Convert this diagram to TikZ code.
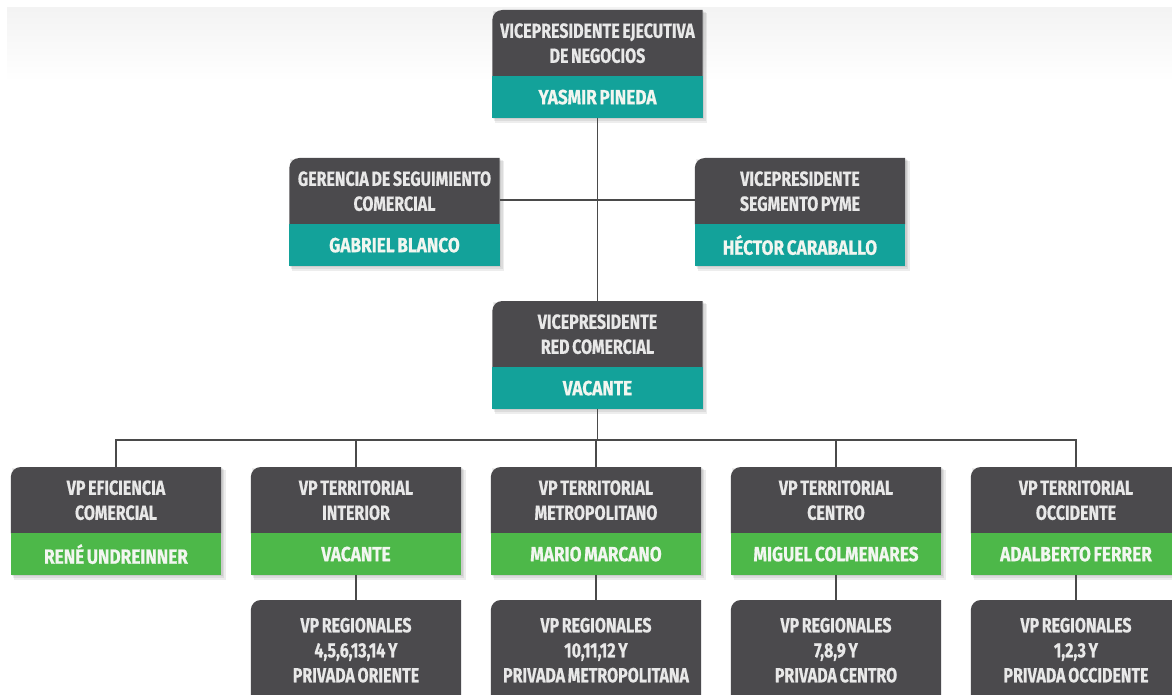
\documentclass[tikz,border=0pt]{standalone}
\usepackage{fontspec}
\newfontfamily\boxfont[FakeStretch=0.78, BoldFeatures={FakeBold=0.6}]{Fira Sans}
\newfontfamily\namefont[FakeStretch=0.84, BoldFeatures={FakeBold=0.6}]{Fira Sans}
\usetikzlibrary{calc}
\definecolor{darkbox}{HTML}{4B4A4D}
\definecolor{tealbox}{HTML}{13A29A}
\definecolor{greenbox}{HTML}{4DB849}
\definecolor{linec}{HTML}{4A4A4A}
\definecolor{titletext}{HTML}{E8E8E8}
\definecolor{nametext}{HTML}{F2F6F0}
\definecolor{bandc}{HTML}{F3F3F3}
\pgfdeclarelayer{background}
\pgfsetlayers{background,main}
\newcommand\boxtextfont{\boxfont\bfseries\fontsize{20.5}{25}\selectfont}
\newcommand\nametextfont{\namefont\bfseries\fontsize{20.5}{25}\selectfont}
\tikzset{
  boxtext/.style={anchor=north, text width=210pt, inner sep=0pt, font=\boxtextfont,
    execute at begin node={\centering\spaceskip=0.13em plus 0.05em\relax}},
  titlebox/.style={boxtext, minimum height=66pt, text=titletext},
  namebox/.style={boxtext, minimum height=41pt, text=nametext, font=\nametextfont},
  regbox/.style={boxtext, minimum height=100pt, text=titletext},
  conn/.style={draw=linec, line width=1.5pt},
  shadowc/.style={fill=black, opacity=0.07}
}
\newcommand\orgbox[6]{%
  \node[titlebox] (#1) at (#2,#3) {#4};
  \node[namebox] (#1p) at (#1.south) {#5};
  \begin{pgfonlayer}{background}
    \foreach \s in {1,2,3}{
      \fill[shadowc] ([xshift=\s pt, yshift=-\s pt]#1.north west) rectangle ([xshift=1.5*\s pt, yshift=-1.6*\s pt]#1p.south east);
    }
    \fill[darkbox] (#1.south west) [rounded corners=10pt] -- (#1.north west) [sharp corners] -- (#1.north east) -- (#1.south east) -- cycle;
    \fill[#6] (#1p.north west) rectangle (#1p.south east);
  \end{pgfonlayer}
}
\newcommand\regionbox[3]{%
  \node[regbox] (#1) at (#2,600) {#3};
  \begin{pgfonlayer}{background}
    \fill[darkbox] (#1.south west) [rounded corners=10pt] -- (#1.north west) [sharp corners] -- (#1.north east) -- (#1.south east) -- cycle;
  \end{pgfonlayer}
}
\begin{document}
\begin{tikzpicture}[x=1pt,y=-1pt]
\useasboundingbox (0,0) rectangle (1172,695);
\clip (0,0) rectangle (1172,695);
\begin{pgfonlayer}{background}
\shade[top color=bandc, bottom color=white] (7,8) rectangle (1172,82);
\end{pgfonlayer}

\orgbox{top}{597.5}{10}{VICEPRESIDENTE EJECUTIVA\\DE NEGOCIOS}{YASMIR PINEDA}{tealbox}
\orgbox{ger}{394.5}{158}{GERENCIA DE SEGUIMIENTO\\COMERCIAL}{GABRIEL BLANCO}{tealbox}
\orgbox{hec}{800}{158}{VICEPRESIDENTE\\SEGMENTO PYME}{HÉCTOR CARABALLO}{tealbox}
\orgbox{red}{597.5}{301}{VICEPRESIDENTE\\RED COMERCIAL}{VACANTE}{tealbox}

\orgbox{ta}{116}{467}{VP EFICIENCIA\\COMERCIAL}{RENÉ UNDREINNER}{greenbox}
\orgbox{tb}{356}{467}{VP TERRITORIAL\\INTERIOR}{VACANTE}{greenbox}
\orgbox{tc}{596}{467}{VP TERRITORIAL\\METROPOLITANO}{MARIO MARCANO}{greenbox}
\orgbox{td}{836}{467}{VP TERRITORIAL\\CENTRO}{MIGUEL COLMENARES}{greenbox}
\orgbox{te}{1076}{467}{VP TERRITORIAL\\OCCIDENTE}{ADALBERTO FERRER}{greenbox}

\regionbox{rb}{356}{VP REGIONALES\\4,5,6,13,14 Y\\PRIVADA ORIENTE}
\regionbox{rc}{596}{VP REGIONALES\\10,11,12 Y\\PRIVADA METROPOLITANA}
\regionbox{rd}{836}{VP REGIONALES\\7,8,9 Y\\PRIVADA CENTRO}
\regionbox{re}{1076}{VP REGIONALES\\1,2,3 Y\\PRIVADA OCCIDENTE}

\begin{pgfonlayer}{background}
\draw[conn] (topp.south) -- (red.north);
\draw[conn] ([yshift=-9pt]ger.east) -- ([yshift=-9pt]hec.west);
\coordinate (bus) at (597.5,440);
\draw[conn] (redp.south) -- (bus);
\draw[conn] (ta.north) -- (ta.north |- bus) -- (te.north |- bus) -- (te.north);
\draw[conn] (tb.north) -- (tb.north |- bus);
\draw[conn] (tc.north) -- (tc.north |- bus);
\draw[conn] (td.north) -- (td.north |- bus);
\draw[conn] (tbp.south) -- (rb.north);
\draw[conn] (tcp.south) -- (rc.north);
\draw[conn] (tdp.south) -- (rd.north);
\draw[conn] (tep.south) -- (re.north);
\end{pgfonlayer}
\end{tikzpicture}
\end{document}
